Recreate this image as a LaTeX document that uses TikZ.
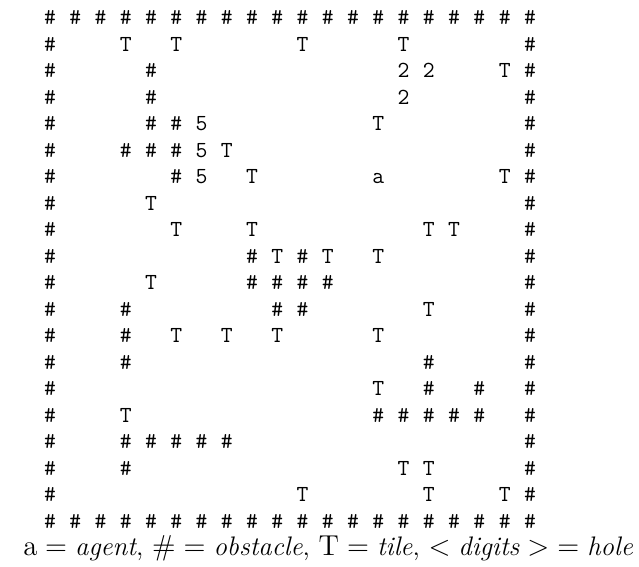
\documentclass[tikz,border=0pt]{standalone}
\begin{document}
\begin{tikzpicture}[x=0.5pt,y=-0.5pt,
  cell/.style={inner sep=0pt, anchor=base, font=\fontsize{11.5}{13}\selectfont\ttfamily},
  caption/.style={inner sep=0pt, anchor=base, font=\fontsize{13.4}{16}\selectfont}]
\useasboundingbox (0,0) rectangle (639,567);
% border
\foreach \c in {0,...,19} {
  \node[cell] (h\c-0) at ({50+25.26*\c},{18+7}) {\#};
  \node[cell] (h\c-19) at ({50+25.26*\c},{18+26.5*19+7}) {\#};
}
\foreach \r in {1,...,18} {
  \node[cell] (h0-\r) at ({50},{18+26.5*\r+7}) {\#};
  \node[cell] (h19-\r) at ({50+25.26*19},{18+26.5*\r+7}) {\#};
}
% interior obstacles
\foreach \c/\r in {4/2,4/3,4/4,5/4,3/5,4/5,5/5,5/6,8/9,10/9,8/10,9/10,10/10,11/10,
  3/11,9/11,10/11,3/12,3/13,15/13,15/14,17/14,13/15,14/15,15/15,16/15,17/15,
  3/16,4/16,5/16,6/16,7/16,3/17}
  \node[cell] (h\c-\r) at ({50+25.26*\c},{18+26.5*\r+7}) {\#};
% tiles
\foreach \c/\r in {3/1,5/1,10/1,14/1,18/2,13/4,7/5,8/6,18/6,4/7,5/8,8/8,15/8,16/8,
  9/9,11/9,13/9,4/10,15/11,5/12,7/12,9/12,13/12,13/14,3/15,14/17,15/17,10/18,15/18,18/18}
  \node[cell] (t\c-\r) at ({50+25.26*\c},{18+26.5*\r+7}) {T};
% holes
\foreach \c/\r/\d in {14/2/2,15/2/2,14/3/2,6/4/5,6/5/5,6/6/5}
  \node[cell] (d\c-\r) at ({50+25.26*\c},{18+26.5*\r+7}) {\d};
% agent
\node[cell] (agent) at ({50+25.26*13},{18+26.5*6+7}) {a};
% caption
\node[caption] (cap) at (328,556) {$\mathrm{a}=\textit{agent}$, $\#=\textit{obstacle}$, $\mathrm{T}=\textit{tile}$, $<\textit{digits}>\;=\textit{hole}$};
\end{tikzpicture}
\end{document}
